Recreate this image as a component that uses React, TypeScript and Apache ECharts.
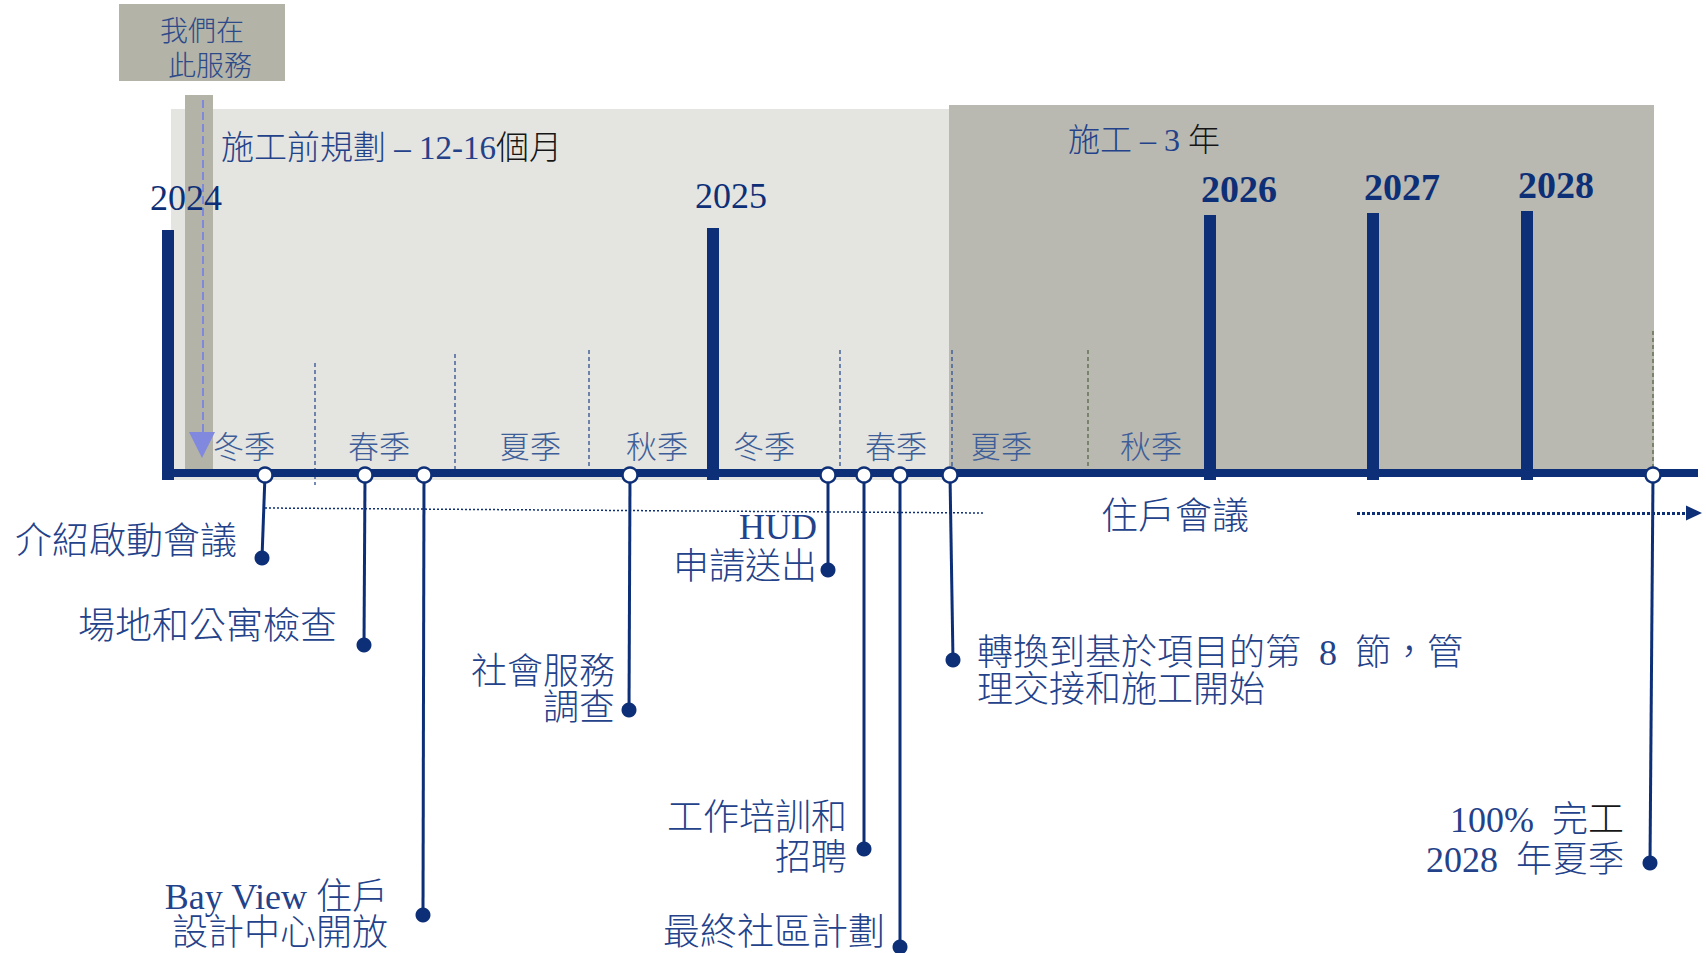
import React, { useEffect, useRef } from "react";
import * as echarts from "echarts";

const FONT = "'Liberation Serif', 'Noto Sans CJK TC', serif";
const NAVY = "#0d2f77";
const INK = "#23428a";
const SEASON_INK = "#3e5e99";
const BLACK = "#161616";

// Scale: x = position along the timeline, y = height above (+) / depth below (-) the timeline
const X_MIN = 0;
const X_MAX = 1706;
const Y_MIN = -480;
const Y_MAX = 473;

// Timeline extent
const timelineStart = 168;
const timelineEnd = 1698;

// Phase panels
const panelNames = ["施工前規劃", "施工", "我們在此服務", "指標"];
const panelStarts = [171, 949, 119, 185];
const panelEnds = [949, 1654, 285, 213];
const panelTops = [364, 368, 469, 378];
const panelBottoms = [-7, 0, 392, 1];
const panelColors = ["#e4e4e0", "#b9b9b1", "#b3b3a8", "#b3b3a8"];

// Phase headings
const phaseLabels = ["施工前規劃 – 12-16{k|個月}", "施工 – 3 {k|年}"];
const phaseLabelX = [221, 1068];
const phaseLabelY = [325, 333];

// Callout "we are here"
const calloutLines = ["我們在", "此服務"];
const calloutLineX = [202, 210];
const calloutLineY = [442, 407];
const calloutPointerX = 202;
const calloutPointerTop = 373;
const calloutPointerTip = 15;

// Years
const yearLabels = ["2024", "2025", "2026", "2027", "2028"];
const yearPositions = [168, 713, 1210, 1373, 1527];
const yearBarHeights = [243, 245, 258, 260, 262];
const yearBold = [0, 0, 1, 1, 1];

// Seasons
const seasonLabels = ["冬季", "春季", "夏季", "秋季", "冬季", "春季", "夏季", "秋季"];
const seasonPositions = [244, 379, 530, 657, 764, 896, 1001, 1151];
const seasonLevel = 26;

// Season separators
const separatorPositions = [315, 455, 589, 840, 952, 1088, 1653];
const separatorTops = [110, 119, 123, 123, 123, 123, 142];
const separatorBottoms = [-12, 0, 0, 0, 0, 0, 0];
const separatorKinds = [0, 0, 0, 0, 0, 1, 1];

// Milestones
const milestoneLabels = [
  "介紹啟動會議",
  "場地和公寓檢查",
  "Bay View 住戶\n設計中心開放",
  "社會服務\n調查",
  "HUD\n申請送出",
  "工作培訓和\n招聘",
  "最終社區計劃",
  "轉換到基於項目的第  8  節，管\n理交接和施工開始",
  "100%  完{k|工}\n2028  年夏季",
];
const milestonePositions = [265, 365, 424, 630, 828, 864, 900, 950, 1653];
const milestoneStemEnds = [262, 364, 423, 629, 828, 864, 900, 953, 1650];
const milestoneDepths = [-85, -172, -442, -237, -97, -376, -474, -187, -390];
const milestoneLevel = -2;

// Residents' meetings (ongoing)
const residentsLabel = "住戶會議";
const residentsLabelX = 1175;
const residentsLabelY = -43;
const residentsLineX = [265, 983];
const residentsLineY = [-35, -40];
const residentsArrowX = [1357, 1694];
const residentsArrowY = -40;

// ---- layout / styles (not data) ----
const labelDx = [-25, -27, -35, -14, -11, -17, -15, 24, -26];
const labelDy = [17, 19, 0, 20, 23, 11, 15, -11.5, 23];
const labelGap = [0, 0, 36.5, 36.5, 40, 40, 0, 36.5, 40];
const LABEL_SIZE = 36;
const CJK_WEIGHT = 300;

function txt(text: string, x: number, y: number, size: number, fill: string, align = "left", weight: any = CJK_WEIGHT) {
  return {
    type: "text",
    style: {
      text,
      x,
      y,
      align,
      verticalAlign: "middle",
      fontSize: size,
      fontFamily: FONT,
      fontWeight: weight,
      fill,
      rich: { k: { fill: BLACK, fontSize: size, fontFamily: FONT, fontWeight: weight } },
    },
  };
}

function buildOption(): any {
  return {
    animation: false,
    backgroundColor: "#ffffff",
    grid: { left: 0, right: 0, top: 0, bottom: 0, show: false },
    xAxis: { type: "value", min: X_MIN, max: X_MAX, show: false },
    yAxis: { type: "value", min: Y_MIN, max: Y_MAX, show: false },
    series: [
      {
        name: "panels",
        type: "custom",
        z: 1,
        silent: true,
        data: panelNames.map((_, i) => [panelStarts[i], panelTops[i], i]),
        renderItem: (_p: any, api: any) => {
          const i = api.value(2);
          const a = api.coord([panelStarts[i], panelTops[i]]);
          const b = api.coord([panelEnds[i], panelBottoms[i]]);
          return {
            type: "rect",
            shape: { x: a[0], y: a[1], width: b[0] - a[0], height: b[1] - a[1] },
            style: { fill: panelColors[i] },
          };
        },
      },
      {
        name: "separators",
        type: "custom",
        z: 2,
        silent: true,
        data: separatorPositions.map((x, i) => [x, separatorTops[i], i]),
        renderItem: (_p: any, api: any) => {
          const i = api.value(2);
          const a = api.coord([separatorPositions[i], separatorTops[i]]);
          const b = api.coord([separatorPositions[i], separatorBottoms[i]]);
          return {
            type: "line",
            shape: { x1: a[0], y1: a[1], x2: b[0], y2: b[1] },
            style: {
              stroke: separatorKinds[i] ? "#5f6e50" : "#3b5a95",
              lineWidth: 1.4,
              lineDash: [4, 3],
            },
          };
        },
      },
      {
        name: "callout",
        type: "custom",
        z: 3,
        silent: true,
        data: [[calloutPointerX, calloutPointerTop]],
        renderItem: (_p: any, api: any) => {
          const top = api.coord([calloutPointerX, calloutPointerTop]);
          const tip = api.coord([calloutPointerX, calloutPointerTip]);
          const base = tip[1] - 26;
          const children: any[] = [
            {
              type: "line",
              shape: { x1: top[0] + 1, y1: top[1], x2: top[0] + 1, y2: base },
              style: { stroke: "#7f88dc", lineWidth: 2, lineDash: [8, 4] },
            },
            {
              type: "polygon",
              shape: { points: [[tip[0] - 13, base], [tip[0] + 13, base], [tip[0], tip[1]]] },
              style: { fill: "#8089dd" },
            },
          ];
          calloutLines.forEach((t, j) => {
            const p = api.coord([calloutLineX[j], calloutLineY[j]]);
            children.push(txt(t, p[0], p[1], 28, "#2c4a8a", "center"));
          });
          phaseLabels.forEach((t, j) => {
            const p = api.coord([phaseLabelX[j], phaseLabelY[j]]);
            children.push(txt(t, p[0], p[1], j === 0 ? 33 : 32, INK, "left"));
          });
          return { type: "group", children };
        },
      },
      {
        name: "timeline",
        type: "line",
        z: 4,
        silent: true,
        symbol: "none",
        lineStyle: { color: NAVY, width: 8 },
        data: [
          [timelineStart, 0],
          [timelineEnd, 0],
        ],
      },
      {
        name: "years",
        type: "custom",
        z: 5,
        silent: true,
        data: yearPositions.map((x, i) => [x, yearBarHeights[i], i]),
        renderItem: (_p: any, api: any) => {
          const i = api.value(2);
          const x = yearPositions[i];
          const a = api.coord([x, yearBarHeights[i]]);
          const b = api.coord([x, -7]);
          const bold = yearBold[i] === 1;
          return {
            type: "group",
            children: [
              {
                type: "rect",
                shape: { x: a[0] - 6, y: a[1], width: 12, height: b[1] - a[1] },
                style: { fill: NAVY },
              },
              txt(yearLabels[i], a[0] - (bold ? 9 : 18), a[1] - (bold ? 26 : 32), bold ? 38 : 36, NAVY, "left", bold ? "bold" : "normal"),
            ],
          };
        },
      },
      {
        name: "seasons",
        type: "custom",
        z: 3,
        silent: true,
        data: seasonPositions.map((x, i) => [x, seasonLevel, i]),
        renderItem: (_p: any, api: any) => {
          const i = api.value(2);
          const p = api.coord([seasonPositions[i], seasonLevel]);
          return txt(seasonLabels[i], p[0], p[1], 31, SEASON_INK, "center");
        },
      },
      {
        name: "residents",
        type: "line",
        z: 4,
        silent: true,
        symbol: "none",
        lineStyle: { color: NAVY, width: 1.5, type: [2, 2] },
        data: residentsLineX.map((x, i) => [x, residentsLineY[i]]),
        markLine: {
          silent: true,
          symbol: ["none", "triangle"],
          symbolSize: [15, 16],
          label: { show: false },
          lineStyle: { color: NAVY, width: 3, type: [3, 2] },
          emphasis: { disabled: true },
          data: [[{ coord: [residentsArrowX[0], residentsArrowY] }, { coord: [residentsArrowX[1], residentsArrowY] }]],
        },
      },
      {
        name: "residentsLabel",
        type: "custom",
        z: 4,
        silent: true,
        data: [[residentsLabelX, residentsLabelY]],
        renderItem: (_p: any, api: any) => {
          const p = api.coord([residentsLabelX, residentsLabelY]);
          return txt(residentsLabel, p[0], p[1], 37, INK, "center");
        },
      },
      {
        name: "milestones",
        type: "custom",
        z: 6,
        silent: true,
        data: milestonePositions.map((x, i) => [x, milestoneDepths[i], i]),
        renderItem: (_p: any, api: any) => {
          const i = api.value(2);
          const c = api.coord([milestonePositions[i], milestoneLevel]);
          const d = api.coord([milestoneStemEnds[i], milestoneDepths[i]]);
          const children: any[] = [
            {
              type: "line",
              shape: { x1: c[0], y1: c[1], x2: d[0], y2: d[1] },
              style: { stroke: NAVY, lineWidth: 3 },
            },
            { type: "circle", shape: { cx: d[0], cy: d[1], r: 7.5 }, style: { fill: NAVY } },
            {
              type: "circle",
              shape: { cx: c[0], cy: c[1], r: 7.5 },
              style: { fill: "#ffffff", stroke: NAVY, lineWidth: 2.5 },
            },
          ];
          const lines = milestoneLabels[i].split("\n");
          const align = labelDx[i] > 0 ? "left" : "right";
          const cy = d[1] - labelDy[i];
          lines.forEach((t, j) => {
            const y = cy + (j - (lines.length - 1) / 2) * labelGap[i];
            children.push(txt(t, d[0] + labelDx[i], y, LABEL_SIZE + (lines.length === 1 ? 1 : 0), INK, align));
          });
          return { type: "group", children };
        },
      },
    ],
  };
}

export default function App() {
  const ref = useRef<HTMLDivElement>(null);
  useEffect(() => {
    if (!ref.current) return;
    const chart = echarts.init(ref.current, undefined, { renderer: "svg" });
    chart.setOption(buildOption());
    return () => chart.dispose();
  }, []);
  return (
    <div
      ref={ref}
      style={{ position: "absolute", left: 0, top: 0, width: 1706, height: 953, background: "#ffffff" }}
    />
  );
}
